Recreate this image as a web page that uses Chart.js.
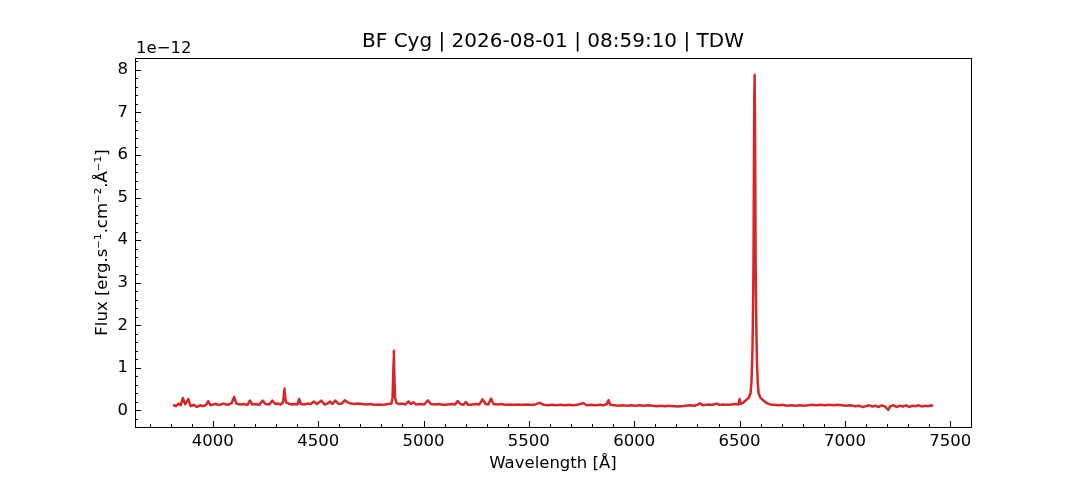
<!DOCTYPE html>
<html>
<head>
<meta charset="utf-8">
<title>BF Cyg spectrum</title>
<script src="https://cdn.jsdelivr.net/npm/chart.js@4.4.0/dist/chart.umd.min.js"></script>
<style>
  body { margin: 0; background: #fff; }
</style>
</head>
<body>
<canvas id="myChart" width="1080" height="480"></canvas>
<script>
// spectrum, flux in units of 1e-12 erg/s/cm2/A
const wavelength = [
  3812, 3825, 3838, 3848, 3858, 3870, 3883, 3895, 3910, 3925, 3940, 3955, 3970, 3978, 3990,
  4010, 4030, 4050, 4070, 4090, 4101, 4112, 4130, 4150, 4165, 4176, 4188, 4205, 4220, 4236,
  4250, 4268, 4283, 4296, 4310, 4322, 4332, 4336, 4340, 4344, 4348, 4360, 4375, 4390, 4402,
  4410, 4418, 4435, 4450, 4465, 4480, 4495, 4515, 4530, 4545, 4555, 4568, 4582, 4597, 4612,
  4627, 4640, 4655, 4670, 4690, 4710, 4730, 4750, 4770, 4790, 4810, 4830, 4848, 4853, 4856,
  4859, 4862, 4865, 4872, 4885, 4900, 4915, 4929, 4940, 4952, 4965, 4985, 5005, 5020, 5035,
  5055, 5075, 5095, 5115, 5135, 5150, 5162, 5175, 5190, 5200, 5212, 5230, 5250, 5265, 5280,
  5295, 5308, 5320, 5332, 5350, 5370, 5390, 5410, 5430, 5450, 5470, 5490, 5510, 5530, 5552,
  5570, 5590, 5610, 5630, 5650, 5670, 5690, 5710, 5730, 5758, 5775, 5795, 5815, 5835, 5855,
  5870, 5878, 5886, 5905, 5925, 5945, 5965, 5985, 6005, 6025, 6045, 6065, 6085, 6105, 6125,
  6145, 6165, 6185, 6205, 6225, 6245, 6265, 6285, 6300, 6312, 6325, 6340, 6355, 6370, 6390,
  6405, 6420, 6440, 6460, 6480, 6495, 6500, 6505, 6516, 6533, 6544, 6552, 6556, 6560, 6561.5,
  6563, 6564.5, 6566, 6567, 6568, 6569.5, 6571, 6572.5, 6574, 6575, 6576, 6577.5, 6579, 6580.5,
  6582, 6586, 6590, 6598, 6609, 6626, 6645, 6665, 6685,
  6705, 6725, 6745, 6765, 6785, 6805, 6825, 6845, 6865, 6885, 6905, 6925, 6945, 6965, 6985,
  7005, 7025, 7045, 7065, 7085, 7100, 7115, 7130, 7145, 7160, 7175, 7190, 7205, 7215, 7230,
  7245, 7260, 7275, 7290, 7305, 7320, 7335, 7350, 7365, 7380, 7395, 7410, 7418
];
const flux = [
  0.13, 0.10, 0.16, 0.12, 0.29, 0.14, 0.27, 0.10, 0.13, 0.08, 0.12, 0.10, 0.14, 0.22, 0.12,
  0.15, 0.13, 0.16, 0.13, 0.17, 0.32, 0.16, 0.14, 0.15, 0.13, 0.23, 0.14, 0.15, 0.13, 0.23,
  0.15, 0.14, 0.23, 0.15, 0.16, 0.14, 0.17, 0.30, 0.52, 0.30, 0.19, 0.16, 0.14, 0.15, 0.14,
  0.27, 0.15, 0.14, 0.16, 0.15, 0.21, 0.15, 0.23, 0.14, 0.16, 0.21, 0.15, 0.23, 0.15, 0.16,
  0.24, 0.19, 0.16, 0.15, 0.16, 0.15, 0.14, 0.15, 0.13, 0.14, 0.13, 0.15, 0.16, 0.30, 0.75,
  1.41, 0.75, 0.30, 0.17, 0.15, 0.16, 0.14, 0.21, 0.15, 0.19, 0.14, 0.15, 0.14, 0.24, 0.15,
  0.14, 0.15, 0.13, 0.14, 0.15, 0.14, 0.22, 0.15, 0.13, 0.20, 0.13, 0.14, 0.15, 0.14, 0.26,
  0.15, 0.14, 0.28, 0.15, 0.14, 0.15, 0.13, 0.14, 0.13, 0.14, 0.13, 0.14, 0.13, 0.14, 0.18,
  0.13, 0.12, 0.13, 0.12, 0.13, 0.12, 0.13, 0.12, 0.13, 0.17, 0.12, 0.13, 0.12, 0.13, 0.12,
  0.15, 0.24, 0.13, 0.12, 0.11, 0.12, 0.11, 0.12, 0.11, 0.12, 0.11, 0.12, 0.11, 0.10, 0.11,
  0.10, 0.11, 0.10, 0.09, 0.10, 0.11, 0.12, 0.11, 0.13, 0.17, 0.12, 0.13, 0.14, 0.13, 0.16,
  0.13, 0.14, 0.13, 0.14, 0.15, 0.14, 0.27, 0.15, 0.18, 0.25, 0.30, 0.41, 0.65, 1.20, 1.60,
  2.10, 2.80, 3.50, 4.60, 5.90, 7.20, 7.89, 7.20, 5.90, 4.60, 3.50, 2.80, 2.10, 1.60,
  1.20, 0.65, 0.41, 0.30, 0.25, 0.18, 0.14, 0.13, 0.12,
  0.13, 0.11, 0.12, 0.11, 0.12, 0.11, 0.12, 0.13, 0.12, 0.13, 0.12, 0.13, 0.12, 0.13, 0.12,
  0.11, 0.12, 0.10, 0.11, 0.08, 0.10, 0.12, 0.09, 0.11, 0.08, 0.12, 0.09, 0.01, 0.10, 0.12,
  0.08, 0.11, 0.09, 0.12, 0.08, 0.11, 0.10, 0.12, 0.09, 0.11, 0.10, 0.12, 0.10
];

const xTicks = [4000, 4500, 5000, 5500, 6000, 6500, 7000, 7500];
const yTicks = [0, 1, 2, 3, 4, 5, 6, 7, 8];
const titleText = "BF Cyg | 2026-08-01 | 08:59:10 | TDW";
const xLabel = "Wavelength [Å]";
const yLabel = "Flux [erg.s⁻¹.cm⁻².Å⁻¹]";
const offsetText = "1e\u221212";

Chart.defaults.font.family = "'DejaVu Sans', sans-serif";
Chart.defaults.color = "#000";

// inward ticks (major + minor), box frame, title and the 1e-12 offset label
const frameTicks = {
  id: 'frameTicks',
  afterDraw(chart) {
    const ctx = chart.ctx;
    const a = chart.chartArea;
    const xs = chart.scales.x;
    const ys = chart.scales.y;
    ctx.save();
    ctx.strokeStyle = '#000';
    ctx.lineWidth = 1;
    ctx.beginPath();
    for (let v = 3700; v <= 7500; v += 100) {
      const px = Math.round(xs.getPixelForValue(v)) + 0.5;
      const len = v % 500 === 0 ? 6 : 3;
      ctx.moveTo(px, a.bottom);
      ctx.lineTo(px, a.bottom - len);
    }
    for (let i = -1; i <= 41; i++) {
      const v = i * 0.2;
      if (v < ys.min || v > ys.max) continue;
      const py = Math.round(ys.getPixelForValue(v)) + 0.5;
      const len = i % 5 === 0 ? 6 : 3;
      ctx.moveTo(a.left, py);
      ctx.lineTo(a.left + len, py);
    }
    ctx.stroke();
    ctx.strokeRect(Math.round(a.left) + 0.5, Math.round(a.top) + 0.5,
      Math.round(a.right - a.left), Math.round(a.bottom - a.top));
    ctx.fillStyle = '#000';
    ctx.font = "16.5px 'DejaVu Sans'";
    ctx.textAlign = 'left';
    ctx.textBaseline = 'alphabetic';
    ctx.fillText(offsetText, a.left + 1, a.top - 5);
    ctx.font = "20px 'DejaVu Sans'";
    ctx.textAlign = 'center';
    ctx.textBaseline = 'middle';
    ctx.fillText(titleText, (a.left + a.right) / 2, 42);
    ctx.restore();
  }
};

new Chart("myChart", {
  type: "line",
  data: {
    datasets: [{
      data: wavelength.map((w, i) => ({ x: w, y: flux[i] })),
      borderColor: "#d62728",
      borderWidth: 2.5,
      pointRadius: 0,
      // tiny tension keeps the lines straight but avoids the per-pixel fast path
      tension: 0.0001,
      borderJoinStyle: 'round',
      fill: false
    }]
  },
  options: {
    responsive: false,
    animation: false,
    devicePixelRatio: 1,
    layout: { padding: { left: 0, right: 109, top: 58, bottom: 0 } },
    plugins: {
      legend: { display: false },
      tooltip: { enabled: false },
      title: { display: false }
    },
    scales: {
      x: {
        type: 'linear',
        min: 3631,
        max: 7598,
        afterBuildTicks: s => { s.ticks = xTicks.map(v => ({ value: v })); },
        afterFit: s => { s.height = 53; },
        grid: { display: false, drawTicks: false },
        border: { display: false },
        ticks: { font: { size: 16.5 }, padding: 5, maxRotation: 0, autoSkip: false,
                 callback: v => String(v) },
        title: { display: true, text: xLabel, font: { size: 16.5 }, padding: { top: 4, bottom: 6 } }
      },
      y: {
        type: 'linear',
        min: -0.39,
        max: 8.28,
        afterBuildTicks: s => { s.ticks = yTicks.map(v => ({ value: v })); },
        afterFit: s => { s.width = 135; },
        grid: { display: false, drawTicks: false },
        border: { display: false },
        ticks: { font: { size: 16.5 }, padding: 7, autoSkip: false, callback: v => String(v) },
        title: { display: true, text: yLabel, font: { size: 16.5 }, padding: { top: 93, bottom: 4 } }
      }
    }
  },
  plugins: [frameTicks]
});
</script>
</body>
</html>
